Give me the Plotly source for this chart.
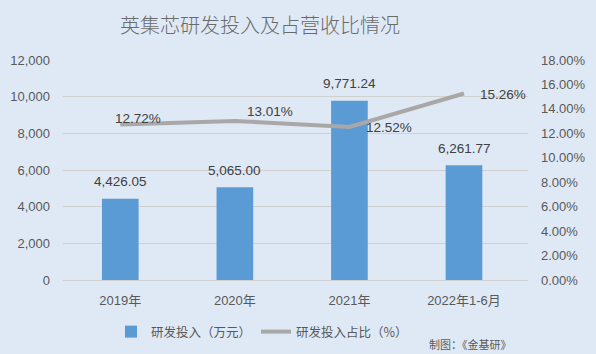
import plotly.graph_objects as go

categories = ["2019年", "2020年", "2021年", "2022年1-6月"]
rd_invest = [4426.05, 5065.00, 9771.24, 6261.77]
rd_ratio = [12.72, 13.01, 12.52, 15.26]
left_ticks = [0, 2000, 4000, 6000, 8000, 10000, 12000]
right_ticks = [0, 2, 4, 6, 8, 10, 12, 14, 16, 18]

# label offsets (style)
ratio_xshift = [-7, 10, 15, 14]
ratio_yshift = [6, 9, -1, -1]

BG = "#dfe9f5"
TXT = "#595959"
FONT = "Liberation Sans, Noto Sans CJK SC"

L, R, T, B = 63, 68, 60, 74
PW, PH = 596 - L - R, 354 - T - B

fig = go.Figure()
fig.add_trace(go.Bar(
    x=categories, y=rd_invest, name="研发投入（万元）",
    marker=dict(color="#5b9bd5", line=dict(width=0)),
    width=0.32, yaxis="y",
))
fig.add_trace(go.Scatter(
    x=categories, y=rd_ratio, name="研发投入占比（%）",
    mode="lines", line=dict(color="#a9a7a7", width=4),
    yaxis="y2",
))

annotations = []
for c, v in zip(categories, rd_invest):
    annotations.append(dict(
        x=c, y=v, xref="x", yref="y", text=f"{v:,.2f}", showarrow=False,
        xanchor="center", yanchor="middle", yshift=17,
        font=dict(size=13.5, color="#404040", family=FONT),
    ))
for c, v, dx, dy in zip(categories, rd_ratio, ratio_xshift, ratio_yshift):
    annotations.append(dict(
        x=c, y=v, xref="x", yref="y2", text=f"{v:.2f}%", showarrow=False,
        xanchor="left", yanchor="middle", xshift=dx, yshift=dy,
        font=dict(size=13.5, color="#404040", family=FONT),
    ))
annotations.append(dict(
    x=(260 - L) / PW, y=(280 - 25) / PH, xref="paper", yref="paper",
    text="英集芯研发投入及占营收比情况",
    showarrow=False, xanchor="center", yanchor="middle",
    font=dict(size=20, color="#6a6a6a", family="Noto Sans CJK SC", weight=300),
))
annotations.append(dict(
    x=(514 - L) / PW, y=(280 - 344) / PH, xref="paper", yref="paper",
    text="制图：《金基研》",
    showarrow=False, xanchor="right", yanchor="middle",
    font=dict(size=11, color=TXT, family="Noto Sans CJK SC"),
))

fig.update_layout(
    width=596, height=354,
    margin=dict(l=L, r=R, t=T, b=B, pad=0, autoexpand=False),
    paper_bgcolor=BG, plot_bgcolor=BG,
    font=dict(family=FONT, color=TXT, size=13),
    showlegend=True,
    legend=dict(orientation="h", x=(262 - L) / PW, xanchor="center",
                y=(280 - 332) / PH, yanchor="middle",
                font=dict(size=12.5, color=TXT, family="Noto Sans CJK SC"),
                bgcolor="rgba(0,0,0,0)", itemwidth=30),
    xaxis=dict(showgrid=False, showline=True, linecolor="#d0d0d0", linewidth=1,
               ticks="", tickfont=dict(size=13, color=TXT), ticklabelstandoff=8),
    yaxis=dict(range=[0, 12000], tickvals=left_ticks,
               ticktext=[f"{t:,}" for t in left_ticks],
               showgrid=True, gridcolor="#d0d0d0", gridwidth=1, zeroline=False,
               showline=False, ticks="", ticklabelstandoff=12,
               tickfont=dict(size=13, color=TXT)),
    yaxis2=dict(range=[0, 18], tickvals=right_ticks,
                ticktext=[f"{t:.2f}%" for t in right_ticks],
                overlaying="y", side="right", showgrid=False, zeroline=False,
                showline=False, ticks="", ticklabelstandoff=12,
                tickfont=dict(size=13, color=TXT)),
    annotations=annotations,
    bargap=0.68,
)

fig.write_html("out.html")
